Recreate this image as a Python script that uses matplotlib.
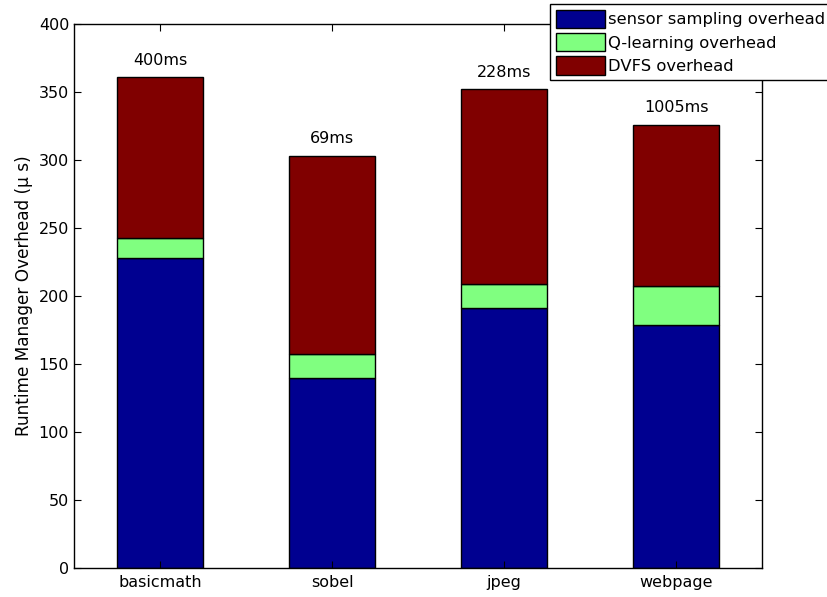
import numpy as np
import matplotlib
matplotlib.use("Agg")
import matplotlib.pyplot as plt

plt.rcParams['font.family'] = ['DejaVu Sans']

# data
apps = ["basicmath", "sobel", "jpeg", "webpage"]
sensor = [228, 140, 191, 179]
qlearn = [15, 17, 18, 28]
dvfs = [118, 146, 143, 119]
exec_time = ["400ms", "69ms", "228ms", "1005ms"]

fig = plt.figure(figsize=(8.28, 5.97), dpi=100)
ax = fig.add_axes([0.0894, 0.0486, 0.8309, 0.9112])

x = np.arange(1, len(apps) + 1)
w = 0.5
sensor = np.array(sensor)
qlearn = np.array(qlearn)
dvfs = np.array(dvfs)
b1 = ax.bar(x, sensor, w, color="#000090", edgecolor="black", linewidth=1, label="sensor sampling overhead")
b2 = ax.bar(x, qlearn, w, bottom=sensor, color="#80FF80", edgecolor="black", linewidth=1, label="Q-learning overhead")
b3 = ax.bar(x, dvfs, w, bottom=sensor + qlearn, color="#800000", edgecolor="black", linewidth=1, label="DVFS overhead")

tot = sensor + qlearn + dvfs
for xi, t, lab in zip(x, tot, exec_time):
    ax.text(xi, t + 12.5, lab, ha="center", va="center", fontsize=11.5)

ax.set_xlim(0.5, 4.5)
ax.set_ylim(0, 400)
ax.set_xticks(x)
ax.set_xticklabels(apps, fontsize=11.5)
ax.set_yticks(range(0, 401, 50))
ax.tick_params(axis="y", labelsize=11.5)
ax.tick_params(direction="in", top=True, right=True, length=5, width=0.8)
ax.tick_params(axis="x", pad=5)
ax.set_ylabel("Runtime Manager Overhead (\u03bc s)", fontsize=12.2, labelpad=4)
for s in ax.spines.values():
    s.set_linewidth(1)

leg = fig.legend(handles=[b1, b2, b3], loc="upper left",
                 bbox_to_anchor=(550 / 828, 1 - 4 / 597),
                 fontsize=11.8, frameon=True, fancybox=False,
                 edgecolor="black", framealpha=1,
                 handlelength=3.0, handleheight=1.35,
                 handletextpad=0.2, borderpad=0.35, labelspacing=0.3,
                 borderaxespad=0)
leg.get_frame().set_linewidth(1)

fig.savefig("out.png", dpi=100)
